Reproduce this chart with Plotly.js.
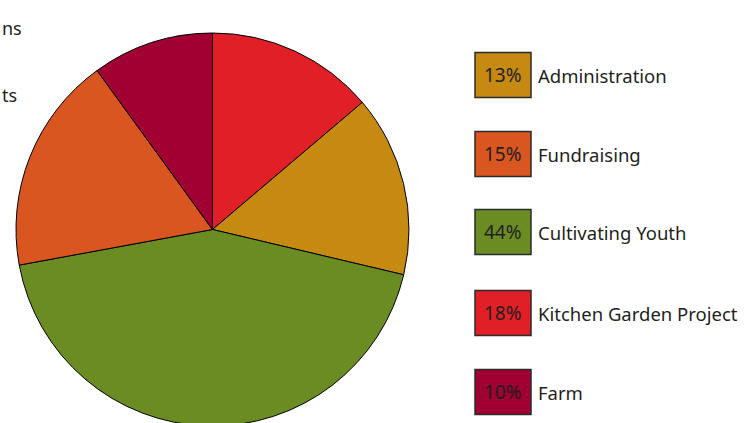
<!DOCTYPE html>
<html>
<head>
<meta charset="utf-8">
<script src="https://cdn.plot.ly/plotly-3.0.1.min.js"></script>
<style>
html,body{margin:0;padding:0;overflow:hidden;background:#fff;}
#chart{width:754px;height:426px;}
</style>
</head>
<body>
<div id="chart"></div>
<script>
// Pie slices, clockwise from 12 o'clock
var sliceNames = ["Kitchen Garden Project", "Administration", "Cultivating Youth", "Fundraising", "Farm"];
var sliceValues = [13.8, 14.9, 43.4, 17.9, 10.0];
var sliceColors = ["#E11F26", "#C68A12", "#6B8C23", "#DA5620", "#A00032"];

// Legend entries (top to bottom) as printed
var legendNames = ["Administration", "Fundraising", "Cultivating Youth", "Kitchen Garden Project", "Farm"];
var legendPct = ["13%", "15%", "44%", "18%", "10%"];
var legendColors = ["#C68A12", "#DA5620", "#6B8C23", "#E11F26", "#A00032"];

// Partially visible text at the left edge
var edgeTexts = ["ns", "ts"];

var W = 754, H = 426;
var FONT = "Noto Sans, Open Sans, sans-serif";
function px(x){ return x / W; }
function py(y){ return 1 - y / H; }

var trace = {
  type: "pie",
  labels: sliceNames,
  values: sliceValues,
  marker: {colors: sliceColors, line: {color: "#000000", width: 1}},
  sort: false,
  direction: "clockwise",
  rotation: 0,
  textinfo: "none",
  hoverinfo: "label+percent",
  showlegend: false,
  domain: {x: [px(16), px(409)], y: [0, 1 - 33 / H]}
};

var shapes = [], annotations = [];
var boxX0 = 475, boxX1 = 531, boxH = 45;
var centers = [75, 154, 232, 313, 392];
legendNames.forEach(function(n, i){
  var cy = centers[i];
  shapes.push({type: "rect", xref: "paper", yref: "paper",
    x0: px(boxX0), x1: px(boxX1), y0: py(cy + boxH / 2), y1: py(cy - boxH / 2),
    fillcolor: legendColors[i], line: {color: "#2b2b2b", width: 1.5}});
  annotations.push({xref: "paper", yref: "paper", x: px((boxX0 + boxX1) / 2 + 0.5), y: py(cy),
    xanchor: "center", yanchor: "middle", showarrow: false, text: legendPct[i],
    font: {family: FONT, size: 19, color: "#231F20"}});
  annotations.push({xref: "paper", yref: "paper", x: px(536), y: py(cy),
    xanchor: "left", yanchor: "middle", showarrow: false, text: n,
    font: {family: FONT, size: 18.5, color: "#231F20"}});
});
var edgeY = [28, 95];
edgeTexts.forEach(function(t, i){
  annotations.push({xref: "paper", yref: "paper", x: 0, y: py(edgeY[i]),
    xanchor: "left", yanchor: "middle", showarrow: false, text: t,
    font: {family: FONT, size: 18, color: "#231F20"}});
});

var layout = {
  width: W, height: H,
  margin: {l: 0, r: 0, t: 0, b: 0},
  paper_bgcolor: "#ffffff",
  plot_bgcolor: "#ffffff",
  shapes: shapes,
  annotations: annotations,
  showlegend: false
};

Plotly.newPlot("chart", [trace], layout, {displayModeBar: false, staticPlot: true});
</script>
</body>
</html>
